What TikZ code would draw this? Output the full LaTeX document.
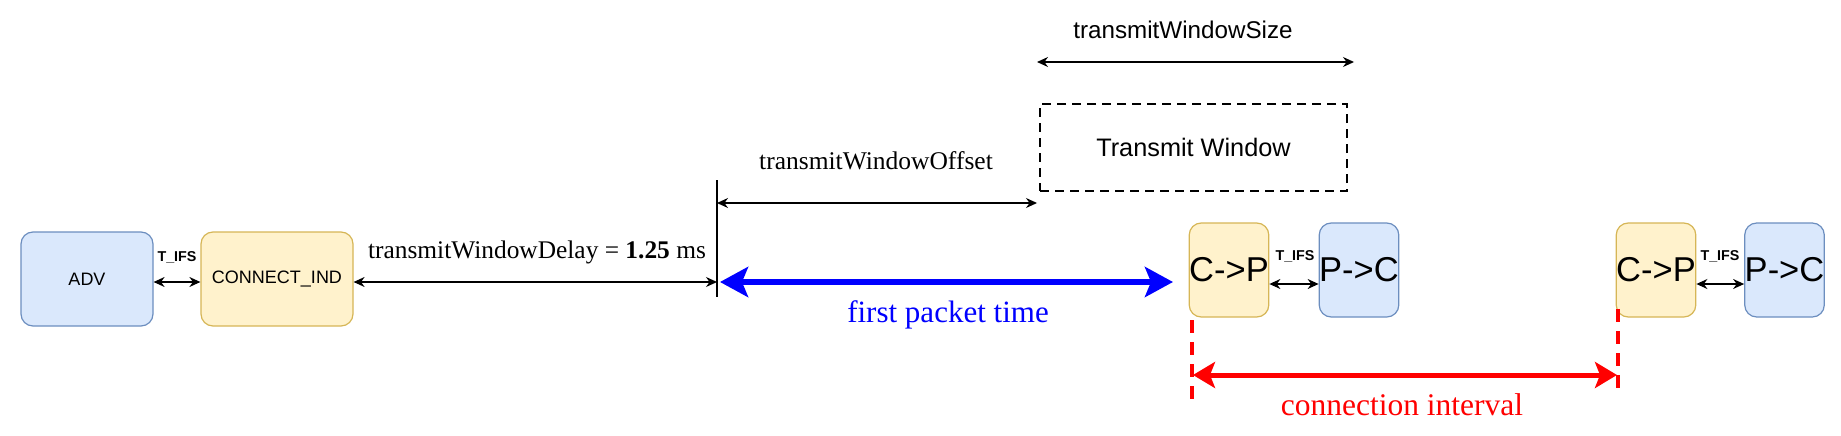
\documentclass[tikz,border=0pt]{standalone}
\usepackage{fontspec}
\setmainfont{Liberation Serif}
\setsansfont{Liberation Sans}
\usetikzlibrary{arrows.meta}
\definecolor{bfill}{HTML}{DAE8FC}
\definecolor{bdraw}{HTML}{6C8EBF}
\definecolor{yfill}{HTML}{FFF2CC}
\definecolor{ydraw}{HTML}{D6B656}
\definecolor{myblue}{HTML}{0000FF}
\definecolor{myred}{HTML}{FF0000}
\tikzset{
  box/.style={draw, rounded corners=12pt, line width=1.2pt, inner sep=0pt, font=\sffamily},
  bluebox/.style={box, fill=bfill, draw=bdraw},
  yellowbox/.style={box, fill=yfill, draw=ydraw},
  dim/.style={line width=1.3pt, {Stealth[length=11pt,width=10pt]}-{Stealth[length=11pt,width=10pt]}},
  lbl/.style={inner sep=0pt, anchor=base},
  tifs/.style={inner sep=0pt, font=\sffamily\bfseries\fontsize{14.3}{16}\selectfont},
  bigtxt/.style={font=\sffamily\fontsize{34.5}{38}\selectfont},
}
\begin{document}
\begin{tikzpicture}[x=1pt,y=-1pt]
\useasboundingbox (0,0) rectangle (1841,436);
% left boxes
\node[bluebox, minimum width=132pt, minimum height=94pt, font=\sffamily\fontsize{18}{21}\selectfont] (adv) at (87,279) {ADV};
\node[yellowbox, minimum width=152pt, minimum height=94pt, font=\sffamily\fontsize{18}{21}\selectfont] (cind) at (277,279) {CONNECT\_IND};
\draw[dim] (adv.east |- 0,282) -- (cind.west |- 0,282);
\node[tifs] (tifs0) at (177,257) {T\_IFS};
% vertical reference line
\coordinate (vtop) at (717,180);
\coordinate (vbot) at (717,297);
\draw[line width=1.3pt] (vtop) -- (vbot);
\coordinate (dEnd) at (717,282);
\draw[dim] (cind.east |- dEnd) -- (dEnd);
\node[lbl, font=\fontsize{25.4}{29}\selectfont] (delay) at (537,258) {transmitWindowDelay = \textbf{1.25} ms};
% transmit window
\node[draw, line width=2.6pt, dash pattern=on 9pt off 6pt, minimum width=307pt, minimum height=87pt, inner sep=0pt, font=\sffamily\fontsize{25.3}{29}\selectfont] (tw) at (1193.5,147.5) {Transmit Window};
\coordinate (oStart) at (717,203);
\coordinate (oEnd) at (1037,203);
\draw[dim] (oStart) -- (oEnd);
\node[lbl, font=\fontsize{25.5}{29}\selectfont] (offset) at (876,169) {transmitWindowOffset};
\coordinate (sStart) at (1037,62);
\coordinate (sEnd) at (1354,62);
\draw[dim] (sStart) -- (sEnd);
\node[lbl, font=\sffamily\fontsize{24.2}{28}\selectfont] (size) at (1183,38) {transmitWindowSize};
% right boxes
\node[yellowbox, minimum width=78pt, minimum height=94pt, bigtxt] (cp1) at (1229,270) {C->P};
\node[bluebox, minimum width=77pt, minimum height=94pt, bigtxt] (pc1) at (1359,270) {P->C};
\draw[dim] (cp1.east |- 0,284) -- (pc1.west |- 0,284);
\node[tifs] (tifs1) at (1295,256) {T\_IFS};
\node[yellowbox, minimum width=77pt, minimum height=94pt, bigtxt] (cp2) at (1656,270) {C->P};
\node[bluebox, minimum width=76pt, minimum height=94pt, bigtxt] (pc2) at (1784.5,270) {P->C};
\draw[dim] (cp2.east |- 0,284) -- (pc2.west |- 0,284);
\node[tifs] (tifs2) at (1720,256) {T\_IFS};
% first packet time
\coordinate (fStart) at (720,282);
\coordinate (fEnd) at (1173,282);
\draw[myblue, line width=6pt, {Stealth[length=28pt,width=30pt,inset=6pt]}-{Stealth[length=28pt,width=30pt,inset=6pt]}] (fStart) -- (fEnd);
\node[lbl, text=myblue, font=\fontsize{31}{35}\selectfont] (fpt) at (948,322) {first packet time};
% connection interval
\coordinate (r1top) at (1192,320);
\coordinate (r1bot) at (1192,405);
\coordinate (r2top) at (1618,309);
\coordinate (r2bot) at (1618,393);
\draw[myred, line width=4pt, dash pattern=on 13pt off 9pt] (r1top) -- (r1bot);
\draw[myred, line width=4pt, dash pattern=on 13pt off 9pt] (r2top) -- (r2bot);
\coordinate (cA) at (1193,375);
\coordinate (cB) at (1617,375);
\draw[myred, line width=5pt, {Stealth[length=22pt,width=26pt,inset=5pt]}-{Stealth[length=22pt,width=26pt,inset=5pt]}] (cA) -- (cB);
\node[lbl, text=myred, font=\fontsize{31.5}{35}\selectfont] (ci) at (1402,415) {connection interval};
\end{tikzpicture}
\end{document}
